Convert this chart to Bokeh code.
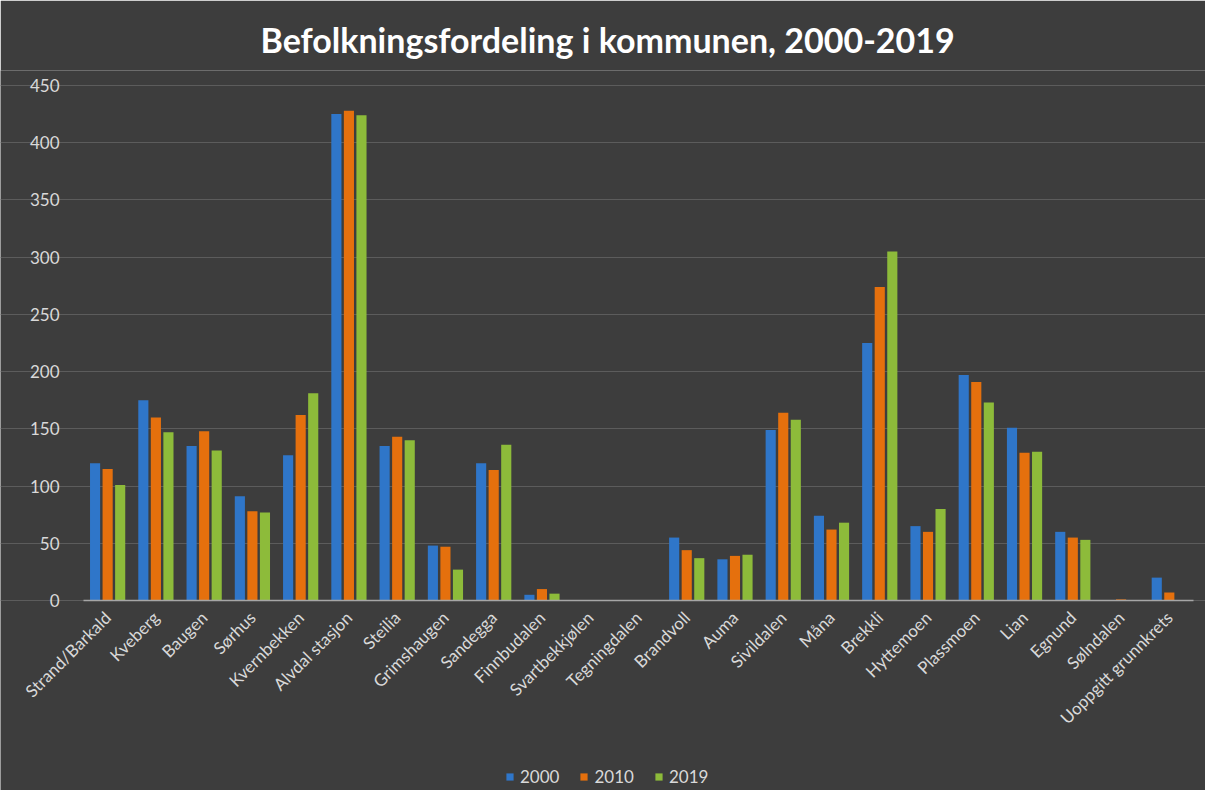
from math import pi
from bokeh.plotting import figure
from bokeh.models import ColumnDataSource, Legend, LegendItem, FixedTicker, Range1d
from bokeh.transform import dodge
from bokeh.embed import file_html
from bokeh.resources import INLINE

categories = ["Strand/Barkald", "Kveberg", "Baugen", "Sørhus", "Kvernbekken",
              "Alvdal stasjon", "Steilia", "Grimshaugen", "Sandegga", "Finnbudalen",
              "Svartbekkjølen", "Tegningdalen", "Brandvoll", "Auma", "Sivildalen",
              "Måna", "Brekkli", "Hyttemoen", "Plassmoen", "Lian", "Egnund",
              "Sølndalen", "Uoppgitt grunnkrets"]
v2000 = [120, 175, 135, 91, 127, 425, 135, 48, 120, 5, 0, 0, 55, 36, 149, 74, 225, 65, 197, 151, 60, 0, 20]
v2010 = [115, 160, 148, 78, 162, 428, 143, 47, 114, 10, 0, 0, 44, 39, 164, 62, 274, 60, 191, 129, 55, 1, 7]
v2019 = [101, 147, 131, 77, 181, 424, 140, 27, 136, 6, 0, 0, 37, 40, 158, 68, 305, 80, 173, 130, 53, 0, 0]
series = ["2000", "2010", "2019"]
colors = ["#2f76c9", "#e5700d", "#8dbb3a"]
y_ticks = [0, 50, 100, 150, 200, 250, 300, 350, 400, 450]

n = len(categories)
idx = list(range(n))
src = ColumnDataSource(dict(x=idx, cat=categories, s2000=v2000, s2010=v2010, s2019=v2019))

BG = "#3d3d3d"
FONT = "Lato"

# the frame covers the whole area under the title; axes sit inside it
x_lo, x_hi = -0.5, n - 0.5
p = figure(x_range=Range1d(-2.22, 22.75), y_range=Range1d(-166, 463.1),
           frame_width=1205, frame_height=720, output_backend="svg", toolbar_location=None,
           min_border_left=0, min_border_right=0, min_border_top=70, min_border_bottom=0)
p.background_fill_color = BG
p.border_fill_color = BG
p.outline_line_color = None

p.title.text = "Befolkningsfordeling i kommunen, 2000-2019"
p.title.align = "left"
p.title.offset = 260
p.title.text_color = "#ffffff"
p.title.text_font = FONT
p.title.text_font_style = "bold"
p.title.text_font_size = "34px"
p.title.standoff = 22

offsets = [-0.26, 0.0, 0.26]
renderers = []
for s, c, off in zip(series, colors, offsets):
    r = p.vbar(x=dodge("x", off), top="s" + s, width=0.21,
               source=src, fill_color=c, line_color=None)
    renderers.append(r)

legend = Legend(items=[LegendItem(label=s, renderers=[r]) for s, r in zip(series, renderers)],
                orientation="horizontal", location=(505, 3))
legend.background_fill_alpha = 0
legend.border_line_color = None
legend.label_text_color = "#d9d9d9"
legend.label_text_font = FONT
legend.label_text_font_size = "17px"
legend.glyph_width = 9
legend.glyph_height = 9
legend.spacing = 20
legend.label_standoff = 6
legend.padding = 5
legend.margin = 0
p.add_layout(legend)

xa = p.xaxis[0]
xa.fixed_location = 0
xa.bounds = (x_lo, x_hi)
xa.ticker = FixedTicker(ticks=idx)
xa.major_label_overrides = {i: c for i, c in zip(idx, categories)}
xa.major_label_orientation = pi / 4
xa.major_label_text_color = "#d9d9d9"
xa.major_label_text_font = FONT
xa.major_label_text_font_size = "17px"
xa.axis_line_color = "#a6a6a6"
xa.axis_line_width = 1.5
xa.major_tick_line_color = None
xa.minor_tick_line_color = None
xa.major_label_standoff = 8

ya = p.yaxis[0]
ya.fixed_location = x_lo
ya.bounds = (0, 450)
ya.ticker = FixedTicker(ticks=y_ticks)
ya.major_label_text_color = "#d9d9d9"
ya.major_label_text_font = FONT
ya.major_label_text_font_size = "17px"
ya.axis_line_color = None
ya.major_tick_line_color = None
ya.minor_tick_line_color = None
ya.major_label_standoff = 18

p.xgrid.grid_line_color = None
p.ygrid.grid_line_color = "#5c5c5c"
p.ygrid.grid_line_width = 1
p.ygrid.bounds = (x_lo, x_hi)

open("out.html", "w").write(file_html(p, INLINE))
